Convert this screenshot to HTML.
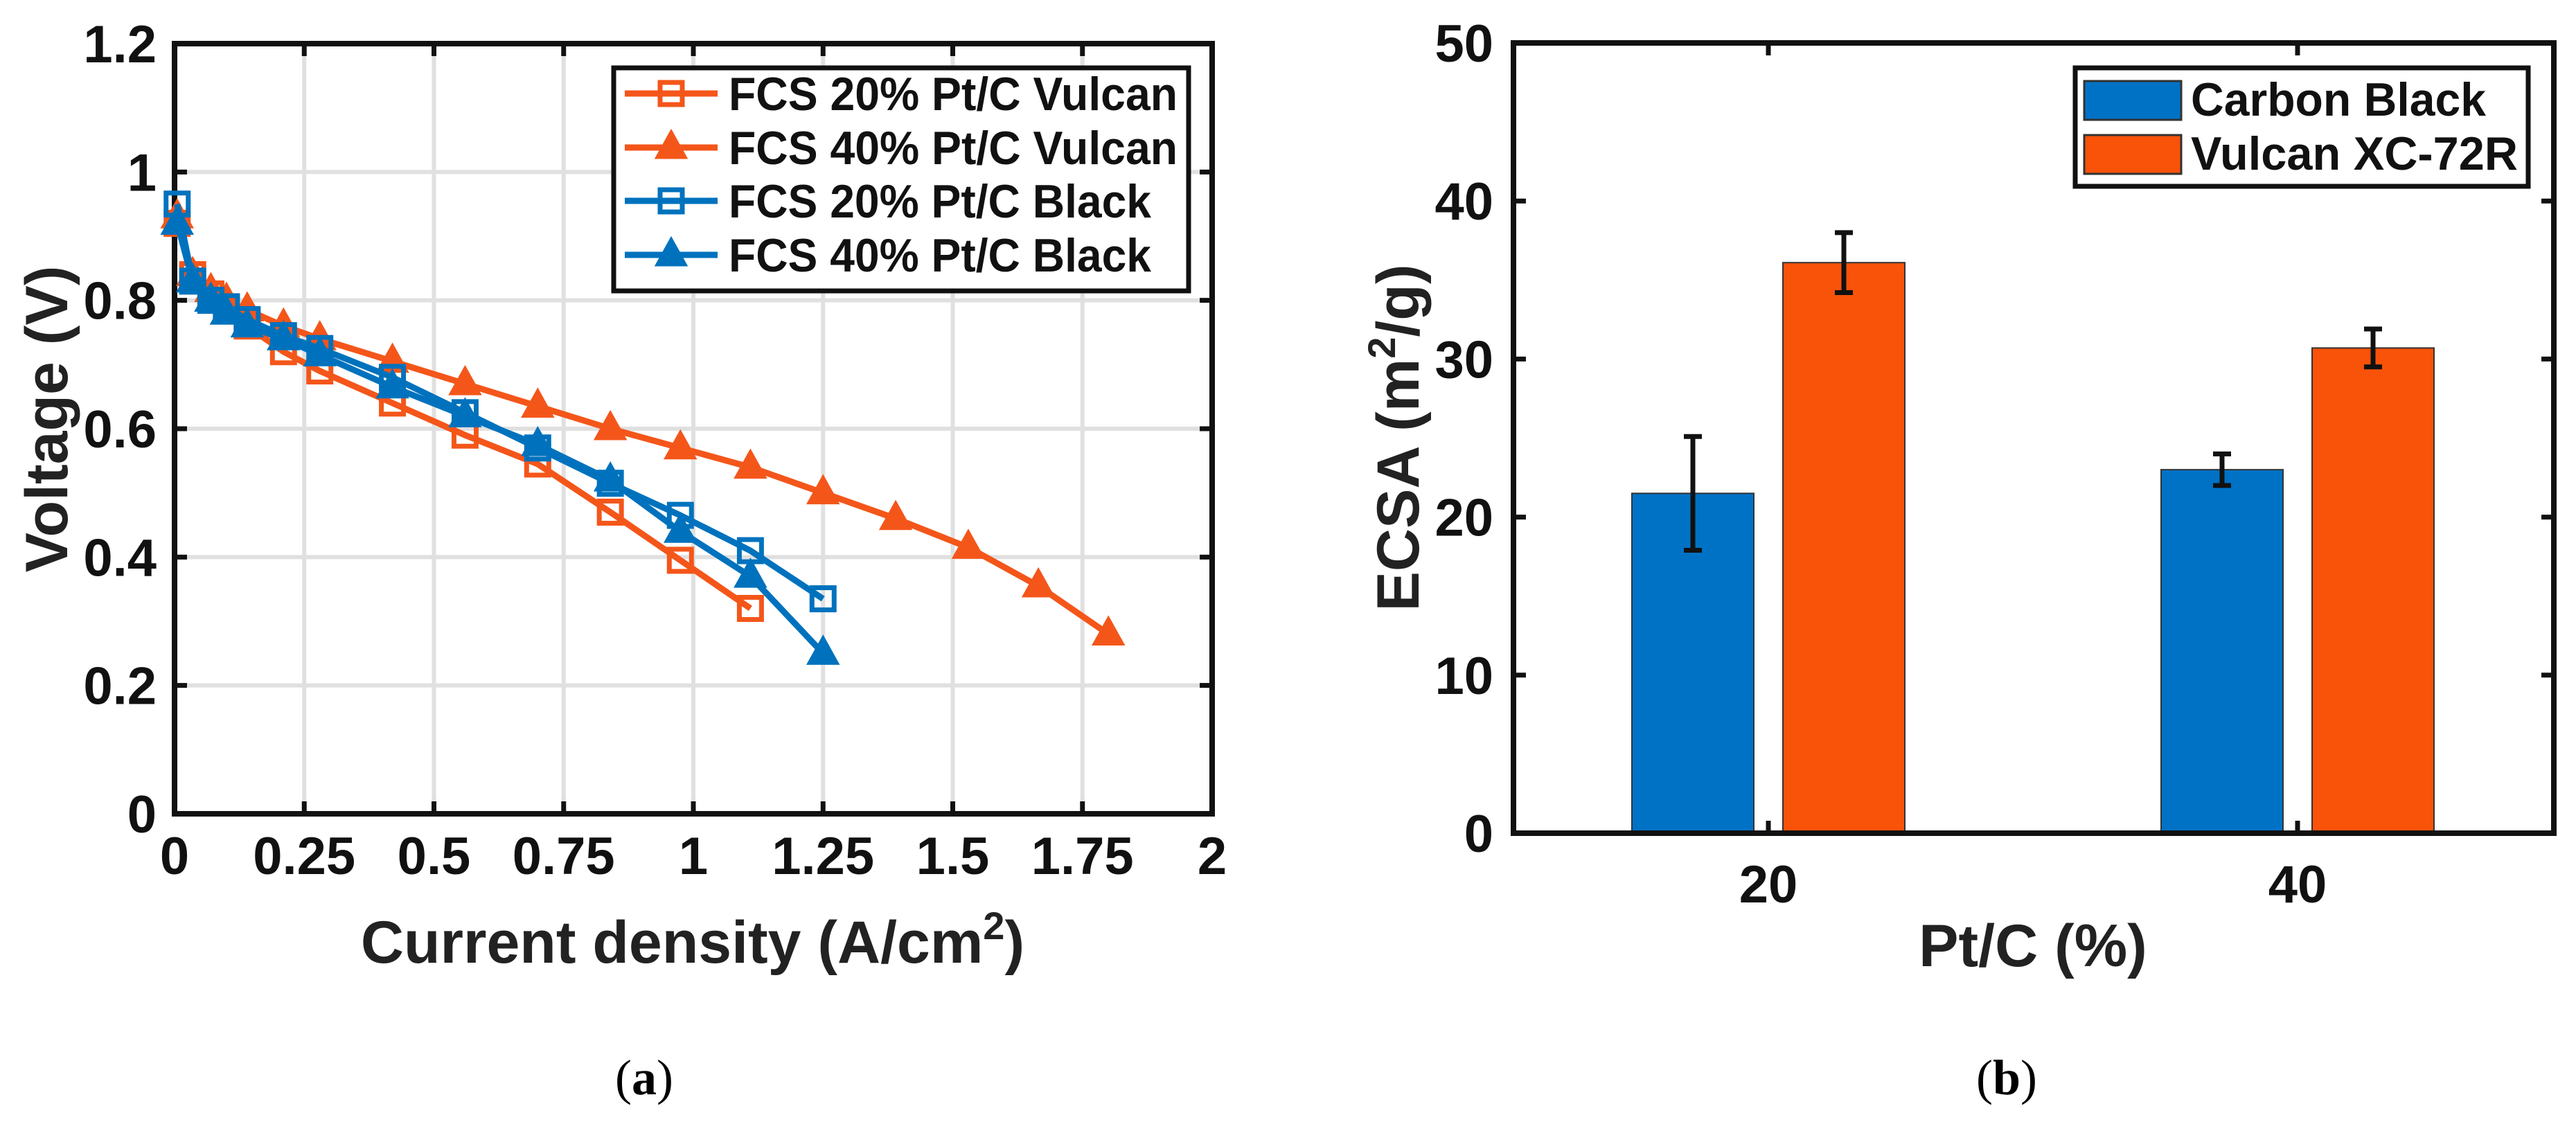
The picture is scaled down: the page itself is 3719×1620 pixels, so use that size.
<!DOCTYPE html>
<html><head><meta charset="utf-8"><style>
html,body{margin:0;padding:0;background:#fff;}
svg{display:block;font-family:"Liberation Sans",Arial,sans-serif;}
</style></head><body>
<svg id="fig" width="3719" height="1620" viewBox="0 0 3719 1620" xmlns="http://www.w3.org/2000/svg">
<g id="chartA"></g>
<g id="chartB"></g>
<text x="930" y="1580" font-family="Liberation Serif,serif" font-size="72" text-anchor="middle">(<tspan font-weight="bold">a</tspan>)</text>
<text x="2897" y="1580" font-family="Liberation Serif,serif" font-size="72" text-anchor="middle">(<tspan font-weight="bold">b</tspan>)</text>
</svg>
<script>
// ---- Chart A data ----
const xTicksA = [0,0.25,0.5,0.75,1,1.25,1.5,1.75,2];
const xTickLabelsA = ["0","0.25","0.5","0.75","1","1.25","1.5","1.75","2"];
const yTicksA = [0,0.2,0.4,0.6,0.8,1,1.2];
const yTickLabelsA = ["0","0.2","0.4","0.6","0.8","1","1.2"];
const v20x = [0.005,0.035,0.07,0.1,0.14,0.21,0.28,0.42,0.56,0.70,0.84,0.975,1.11];
const v20y = [0.92,0.84,0.81,0.79,0.76,0.72,0.69,0.64,0.59,0.545,0.47,0.395,0.32];
const v40x = [0.005,0.035,0.07,0.1,0.14,0.21,0.28,0.42,0.56,0.70,0.84,0.975,1.11,1.25,1.39,1.53,1.665,1.80];
const v40y = [0.93,0.84,0.815,0.80,0.785,0.76,0.74,0.705,0.67,0.635,0.60,0.57,0.54,0.50,0.46,0.415,0.355,0.28];
const b20x = [0.005,0.035,0.07,0.1,0.14,0.21,0.28,0.42,0.56,0.70,0.84,0.975,1.11,1.25];
const b20y = [0.95,0.83,0.80,0.79,0.77,0.745,0.725,0.68,0.625,0.57,0.515,0.465,0.41,0.335];
const b40x = [0.005,0.035,0.07,0.1,0.14,0.21,0.28,0.42,0.56,0.70,0.84,0.975,1.11,1.25];
const b40y = [0.92,0.83,0.80,0.78,0.76,0.74,0.715,0.665,0.62,0.575,0.52,0.44,0.37,0.25];
const seriesNamesA = ["FCS 20% Pt/C Vulcan","FCS 40% Pt/C Vulcan","FCS 20% Pt/C Black","FCS 40% Pt/C Black"];
// ---- Chart B data ----
const categoriesB = ["20","40"];
const carbonBlack = [21.5,23.0];
const carbonBlackErr = [3.6,1.0];
const vulcan = [36.1,30.7];
const vulcanErr = [1.9,1.2];
const yTicksB = [0,10,20,30,40,50];
const seriesNamesB = ["Carbon Black","Vulcan XC-72R"];

const NS="http://www.w3.org/2000/svg";
function mk(parent,tag,attrs){const e=document.createElementNS(NS,tag);for(const k in attrs)e.setAttribute(k,attrs[k]);parent.appendChild(e);return e;}
const ORANGE="#F4561A", BLUE="#0072BD";

// ===== Chart A =====
const A=document.getElementById('chartA');
const AL=252,AR=1750,AT=63,AB=1175;
const sx=v=>AL+(v/2)*(AR-AL);
const sy=v=>AB-(v/1.2)*(AB-AT);
xTicksA.forEach((t,i)=>{
  if(i>0&&i<xTicksA.length-1){const g=mk(A,'line',{x1:sx(t),x2:sx(t),y1:AT,y2:AB,stroke:'#e0e0e0','stroke-width':6});
  
  }
  mk(A,'line',{x1:sx(t),x2:sx(t),y1:AB,y2:AB-18,stroke:'#111','stroke-width':7});
  mk(A,'line',{x1:sx(t),x2:sx(t),y1:AT,y2:AT+18,stroke:'#111','stroke-width':7});
  const l=mk(A,'text',{x:sx(t),y:1262,'font-size':76,'font-weight':'bold','text-anchor':'middle',fill:'#111'});
  l.textContent=xTickLabelsA[i];
  
  
});
yTicksA.forEach((t,i)=>{
  if(i>0&&i<yTicksA.length-1){const g=mk(A,'line',{x1:AL,x2:AR,y1:sy(t),y2:sy(t),stroke:'#e0e0e0','stroke-width':6});
  
  }
  mk(A,'line',{x1:AL,x2:AL+18,y1:sy(t),y2:sy(t),stroke:'#111','stroke-width':7});
  mk(A,'line',{x1:AR,x2:AR-18,y1:sy(t),y2:sy(t),stroke:'#111','stroke-width':7});
  const l=mk(A,'text',{x:226,y:sy(t)+27,'font-size':76,'font-weight':'bold','text-anchor':'end',fill:'#111'});
  l.textContent=yTickLabelsA[i];
  
  
});
const frameA=mk(A,'rect',{x:AL,y:AT,width:AR-AL,height:AB-AT,fill:'none',stroke:'#111','stroke-width':8});


function marker(g,type,x,y,col){
  if(type==='sq') return mk(g,'rect',{x:x-16,y:y-16,width:32,height:32,fill:'none',stroke:col,'stroke-width':7});
  return mk(g,'polygon',{points:`${x},${y-22} ${x-20},${y+14} ${x+20},${y+14}`,fill:col,stroke:col,'stroke-width':5});
}
const seriesA=[[v20x,v20y,ORANGE,'sq'],[v40x,v40y,ORANGE,'tri'],[b20x,b20y,BLUE,'sq'],[b40x,b40y,BLUE,'tri']];
seriesA.forEach((s,k)=>{
  const g=mk(A,'g',{});
  
  
  const pts=s[0].map((x,i)=>sx(x)+','+sy(s[1][i])).join(' ');
  const pl=mk(g,'polyline',{points:pts,fill:'none',stroke:s[2],'stroke-width':9,'stroke-linejoin':'round'});
  
  
  s[0].forEach((x,i)=>{const m=marker(g,s[3],sx(x),sy(s[1][i]),s[2]);
    
    });
});
// legend A
const lgA=mk(A,'g',{});


mk(lgA,'rect',{x:886,y:98,width:830,height:322,fill:'#fff',stroke:'#111','stroke-width':7});
const rowsA=[135,213,290,368];
seriesA.forEach((s,k)=>{
  mk(lgA,'line',{x1:902,x2:1036,y1:rowsA[k],y2:rowsA[k],stroke:s[2],'stroke-width':9});
  marker(lgA,s[3],969,rowsA[k],s[2]);
  const t=mk(lgA,'text',{x:1052,y:rowsA[k]+24,'font-size':68,'font-weight':'bold',fill:'#111',textLength:(k<2?648:610),lengthAdjust:'spacingAndGlyphs'});
  t.textContent=seriesNamesA[k];
  
  
});
const yla=mk(A,'text',{x:0,y:0,'font-size':86,'font-weight':'bold','text-anchor':'middle',fill:'#222',transform:'translate(97,605) rotate(-90)'});
yla.textContent='Voltage (V)';


const xla=mk(A,'text',{x:1000,y:1390,'font-size':86,'font-weight':'bold','text-anchor':'middle',fill:'#222'});
xla.innerHTML='Current density (A/cm<tspan dy="-34" font-size="56">2</tspan><tspan dy="34">)</tspan>';



// ===== Chart B =====
const B=document.getElementById('chartB');
const BL=2185,BR=3687,BT=62,BB=1203;
const by=v=>BB-(v/50)*(BB-BT);
const catX=[2553,3317];
const bw=176, off=109;
yTicksB.forEach(t=>{
  mk(B,'line',{x1:BL,x2:BL+18,y1:by(t),y2:by(t),stroke:'#111','stroke-width':7});
  mk(B,'line',{x1:BR,x2:BR-18,y1:by(t),y2:by(t),stroke:'#111','stroke-width':7});
  const l=mk(B,'text',{x:2156,y:by(t)+27,'font-size':76,'font-weight':'bold','text-anchor':'end',fill:'#111'});
  l.textContent=String(t);
  
  
});
categoriesB.forEach((c,i)=>{
  const cx=catX[i];
  mk(B,'line',{x1:cx,x2:cx,y1:BB,y2:BB-18,stroke:'#111','stroke-width':7});
  mk(B,'line',{x1:cx,x2:cx,y1:BT,y2:BT+18,stroke:'#111','stroke-width':7});
  const l=mk(B,'text',{x:cx,y:1303,'font-size':76,'font-weight':'bold','text-anchor':'middle',fill:'#111'});
  l.textContent=c;
  
  
  const b1=mk(B,'rect',{x:cx-off-bw/2,y:by(carbonBlack[i]),width:bw,height:BB-by(carbonBlack[i]),fill:'#0072C6',stroke:'#333','stroke-width':2});
  
  
  const b2=mk(B,'rect',{x:cx+off-bw/2,y:by(vulcan[i]),width:bw,height:BB-by(vulcan[i]),fill:'#F95209',stroke:'#333','stroke-width':2});
  
  
  [[cx-off,carbonBlack[i],carbonBlackErr[i]],[cx+off,vulcan[i],vulcanErr[i]]].forEach(e=>{
    const g=mk(B,'g',{stroke:'#111','stroke-width':7});
    
    
    mk(g,'line',{x1:e[0],x2:e[0],y1:by(e[1]+e[2]),y2:by(e[1]-e[2])});
    mk(g,'line',{x1:e[0]-13,x2:e[0]+13,y1:by(e[1]+e[2]),y2:by(e[1]+e[2])});
    mk(g,'line',{x1:e[0]-13,x2:e[0]+13,y1:by(e[1]-e[2]),y2:by(e[1]-e[2])});
  });
});
const frameB=mk(B,'rect',{x:BL,y:BT,width:BR-BL,height:BB-BT,fill:'none',stroke:'#111','stroke-width':8});


const lgB=mk(B,'g',{});


mk(lgB,'rect',{x:2996,y:98,width:654,height:171,fill:'#fff',stroke:'#111','stroke-width':7});
const rowsB=[[117,'#0072C6'],[195,'#F95209']];
rowsB.forEach((r,k)=>{
  mk(lgB,'rect',{x:3009,y:r[0],width:140,height:56,fill:r[1],stroke:'#333','stroke-width':3});
  const t=mk(lgB,'text',{x:3163,y:r[0]+50,'font-size':68,'font-weight':'bold',fill:'#111',textLength:(k===0?426:472),lengthAdjust:'spacingAndGlyphs'});
  t.textContent=seriesNamesB[k];
  
  
});
const ylb=mk(B,'text',{x:0,y:0,'font-size':86,'font-weight':'bold','text-anchor':'middle',fill:'#222',transform:'translate(2048,632) rotate(-90)'});
ylb.innerHTML='ECSA (m<tspan dy="-34" font-size="56">2</tspan><tspan dy="34">/g)</tspan>';


const xlb=mk(B,'text',{x:2935,y:1395,'font-size':86,'font-weight':'bold','text-anchor':'middle',fill:'#222'});
xlb.textContent='Pt/C (%)';


</script>
</body></html>
